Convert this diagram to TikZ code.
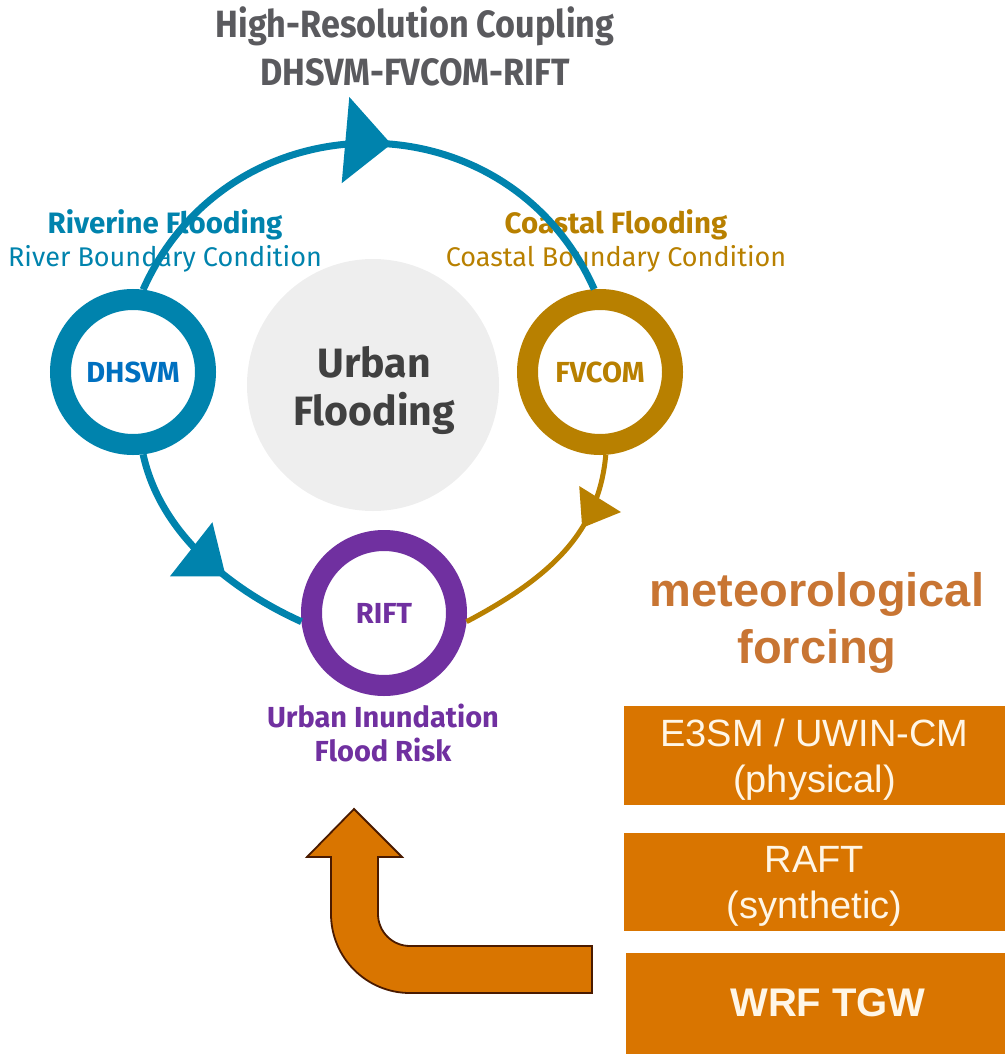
\documentclass[tikz,border=0pt]{standalone}
\usepackage{fontspec}
\setmainfont{Fira Sans}
\newfontfamily\condfont[FakeStretch=0.9]{Fira Sans}
\newfontfamily\arialfont{Liberation Sans}
\usetikzlibrary{arrows.meta,decorations.markings}

\definecolor{riverblue}{HTML}{0083AD}
\definecolor{dhsvmblue}{HTML}{0070C0}
\definecolor{coastgold}{HTML}{B88000}
\definecolor{riftpurple}{HTML}{7030A0}
\definecolor{titlegray}{HTML}{5A5A5E}
\definecolor{urbangray}{HTML}{404040}
\definecolor{poolgray}{HTML}{EEEEEE}
\definecolor{forcetext}{HTML}{C87533}
\definecolor{forcefill}{HTML}{D97500}
\definecolor{boxtext}{HTML}{FFF6E6}
\definecolor{arrowedge}{HTML}{4A1A00}

\tikzset{
  ring/.style={circle, draw=#1, line width=21pt, minimum size=145pt, inner sep=0pt, fill=white},
  modeltext/.style={text=#1, font=\fontsize{29}{29}\selectfont\bfseries},
  link/.style={draw=#1, line width=7pt},
  midtip/.style n args={3}{decoration={markings, mark=at position #1 with {\arrow{Triangle[length=#2, width=#3]}}}, postaction={decorate}},
  floodlabel/.style={text=#1, align=center, font=\fontsize{27}{33}\selectfont},
  forcebox/.style={fill=forcefill, text=boxtext, minimum width=381pt, minimum height=99pt, inner sep=0pt, text depth=0pt, align=center, font=\arialfont\fontsize{38}{46}\selectfont}
}

\begin{document}
\begin{tikzpicture}[x=1pt, y=-1pt]
  \useasboundingbox (0,0) rectangle (1005,1054);

  \node[circle, fill=poolgray, minimum size=252pt, inner sep=0pt] (pool) at (373,385) {};
  \node[text=urbangray, align=center, font=\fontsize{41}{48}\selectfont\bfseries] (urban) at (374,390) {Urban\\Flooding};

  \node[titlegray, align=center, font=\condfont\fontsize{38}{48}\selectfont\bfseries] (title) at (415,46)
      {High-Resolution Coupling\\DHSVM-FVCOM-RIFT};

  \node[floodlabel=riverblue] (river) at (165,241) {{\bfseries\fontsize{29.5}{33}\selectfont Riverine Flooding}\\River Boundary Condition};
  \node[floodlabel=coastgold] (coast) at (616,241) {{\bfseries\fontsize{29.5}{33}\selectfont Coastal Flooding}\\Coastal Boundary Condition};

  \node[ring=riverblue] (dhsvm) at (133,372) {};
  \node[ring=coastgold] (fvcom) at (600,372) {};
  \node[ring=riftpurple] (rift) at (384,613) {};
  \node[modeltext=dhsvmblue] at (dhsvm) {DHSVM};
  \node[modeltext=coastgold] at (fvcom) {FVCOM};
  \node[modeltext=riftpurple] at (rift) {RIFT};

  \draw[link=riverblue, midtip={0.54}{46pt}{85pt}] (dhsvm.83) .. controls +(87,-195) and +(-87,-195) .. (fvcom.94);
  \draw[link=riverblue, midtip={0.63}{44pt}{67pt}] (dhsvm.-83) .. controls +(17,78) and +(-73,-33) .. (rift.186);
  \draw[link=coastgold, line width=5pt, midtip={0.34}{34pt}{48pt}] (fvcom.-86) .. controls +(-7,77) and +(85,-45) .. (rift.-6);

  \node[text=riftpurple, align=center, font=\fontsize{29}{34}\selectfont\bfseries] (risk) at (383,733) {Urban Inundation\\Flood Risk};

  \node[text=forcetext, align=center, font=\arialfont\fontsize{47}{57}\selectfont\bfseries] (forcing) at (817,623) {meteorological\\forcing};

  \node[forcebox] (e3sm) at (814.5,755.5) {E3SM / UWIN-CM\\(physical)};
  \node[forcebox, minimum height=98pt] (raft) at (814.5,882) {RAFT\\(synthetic)};
  \node[forcebox, minimum width=379pt, minimum height=101pt] (wrf) at (815.5,1003.5) {};
  \node[text=boxtext, font=\arialfont\fontsize{40}{46}\selectfont\bfseries] at (828,1003) {WRF TGW};

  \draw[fill=forcefill, draw=arrowedge, line width=1.8pt] (354,809) -- (402,857) -- (378,857) -- (378,914)
      .. controls (378,931.7) and (392.3,946) .. (410,946) -- (592,946) -- (592,993) -- (410,993)
      .. controls (366.4,993) and (331,957.6) .. (331,914) -- (331,857) -- (307,857) -- cycle;
\end{tikzpicture}
\end{document}
